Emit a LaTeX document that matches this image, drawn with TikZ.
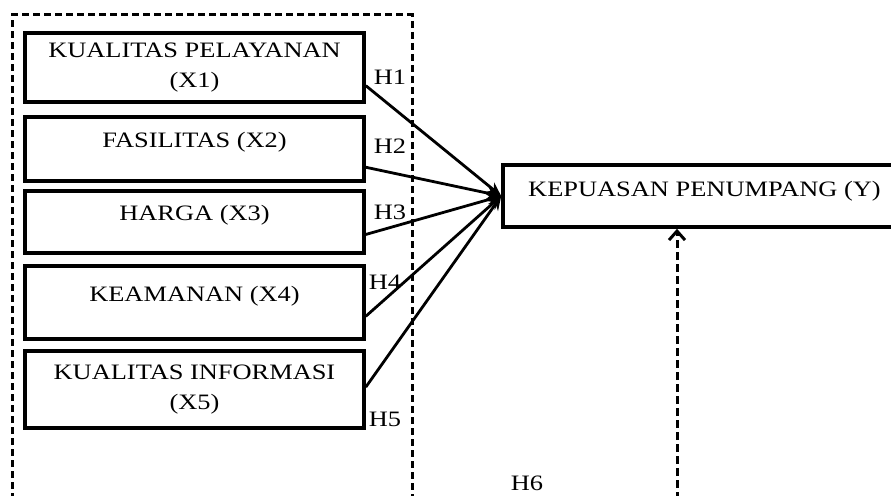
\documentclass[tikz,border=0pt]{standalone}
\usepackage{fontspec}
\setmainfont{Liberation Serif}[FakeStretch=1.2]
\usetikzlibrary{arrows.meta,calc}
\tikzset{
  box/.style={draw=black, line width=3.6pt, minimum width=339pt, inner sep=0pt, align=center,
    font=\fontsize{22}{29.5}\selectfont},
  one/.style={text height=10pt, text depth=13.8pt},
  hlab/.style={inner sep=0pt, font=\fontsize{22}{26}\selectfont},
  conn/.style={line width=2.8pt, -{Stealth[length=14pt,width=12pt]}},
  dconn/.style={line width=3pt, dash pattern=on 8pt off 4pt, -{Straight Barb[length=9pt,width=16pt,line width=3pt]}},
  grp/.style={line width=3pt, dash pattern=on 7pt off 4pt}
}
\begin{document}
\begin{tikzpicture}[x=1pt,y=-1pt]
\useasboundingbox (0,0) rectangle (891,495);
\clip (0,0) rectangle (891,495);
\fill[white] (0,0) rectangle (891,495);
% group frame
\draw[grp] (12,500) -- (12,15) -- (412,15) -- (412,500);
% boxes
\node[box, minimum height=69pt] (x1) at (194.5,67.5) {KUALITAS PELAYANAN\\(X1)};
\node[box, one, minimum height=64pt] (x2) at (194.5,149) {FASILITAS (X2)};
\node[box, one, minimum height=62pt] (x3) at (194.5,222) {HARGA (X3)};
\node[box, text height=10pt, text depth=13pt, minimum height=73pt] (x4) at (194.5,302.5) {KEAMANAN (X4)};
\node[box, minimum height=77pt] (x5) at (194.5,389.5) {KUALITAS INFORMASI\\(X5)};
\node[box, text height=10pt, text depth=10pt, minimum width=403pt, minimum height=62pt] (y) at (704.5,196) {KEPUASAN PENUMPANG (Y)};
% connectors
\draw[conn] ($(x1.north east)!0.75!(x1.south east)$) -- (y.west);
\draw[conn] ($(x2.north east)!0.77!(x2.south east)$) -- (y.west);
\draw[conn] ($(x3.north east)!0.69!(x3.south east)$) -- (y.west);
\draw[conn] ($(x4.north east)!0.68!(x4.south east)$) -- (y.west);
\draw[conn] ($(x5.north east)!0.47!(x5.south east)$) -- (y.west);
\coordinate (h6b) at (677,500);
\draw[dconn] (h6b) -- (y.south -| h6b);
% labels
\node[hlab] (h1) at (390,77) {H1};
\node[hlab] (h2) at (390,146) {H2};
\node[hlab] (h3) at (390,212) {H3};
\node[hlab] (h4) at (385,282) {H4};
\node[hlab] (h5) at (385,419) {H5};
\node[hlab] (h6) at (527,483) {H6};
\end{tikzpicture}
\end{document}
